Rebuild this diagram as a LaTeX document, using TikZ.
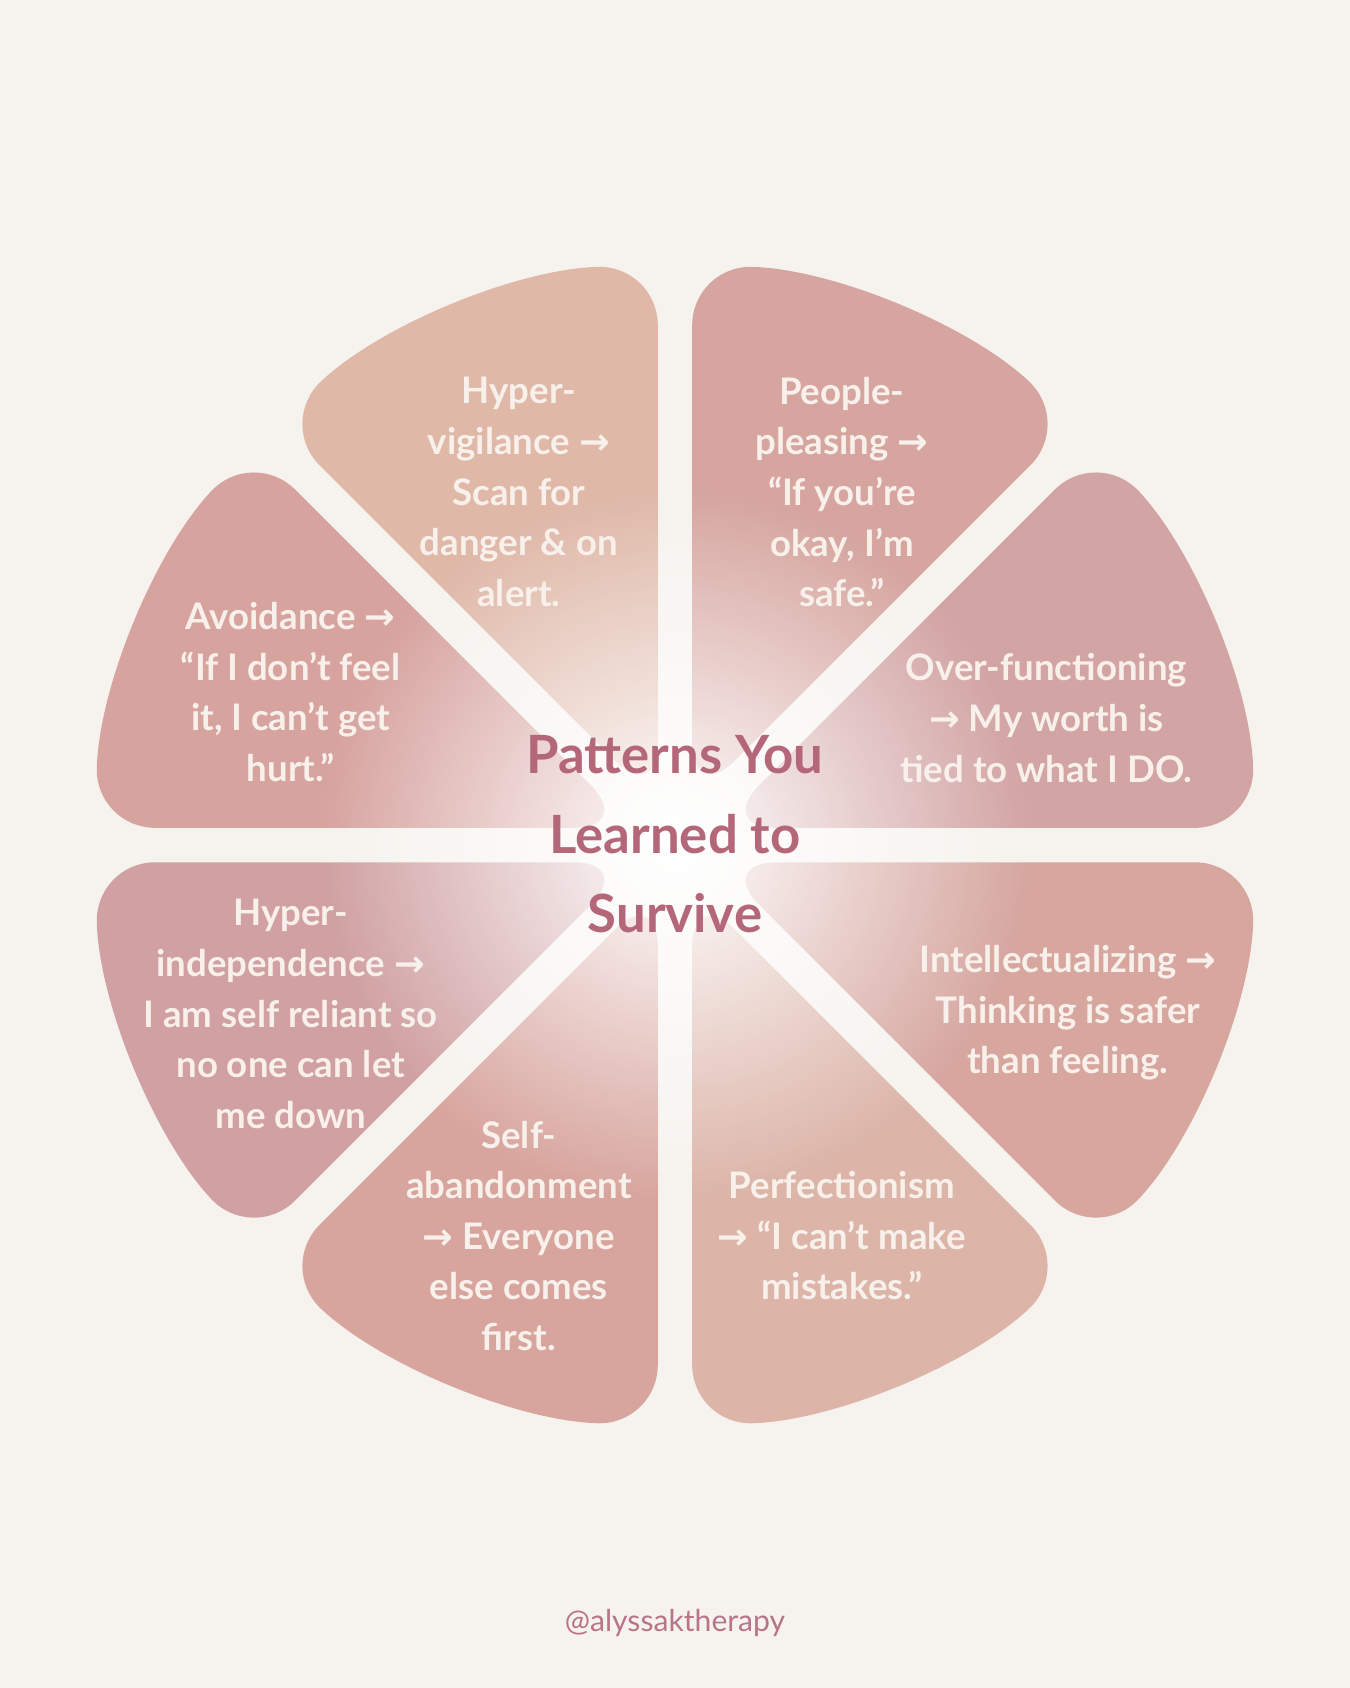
\documentclass[tikz,border=0pt]{standalone}
\usepackage{fontspec}
\setmainfont{Lato}
\newfontfamily\arrfont{DejaVu Sans}
\newcommand{\ar}{{\arrfont →}}
\usetikzlibrary{fadings}
\definecolor{bg}{HTML}{F6F3EE}
\definecolor{txt}{HTML}{F8F0EA}
\definecolor{ttl}{HTML}{B5677A}
\definecolor{hnd}{HTML}{B87488}
\definecolor{cA}{HTML}{DFB8A8}
\definecolor{cB}{HTML}{D6A59F}
\definecolor{cC}{HTML}{D3A4A4}
\definecolor{cD}{HTML}{D6A69F}
\definecolor{cE}{HTML}{DCB4A8}
\definecolor{cF}{HTML}{D8A59E}
\definecolor{cG}{HTML}{D0A0A2}
\definecolor{cH}{HTML}{D7A39F}
\tikzfading[name=glow, inner color=transparent!0, outer color=transparent!100]
\tikzset{lab/.style={text=txt, align=center, font=\fontsize{17}{23.5}\selectfont\bfseries},
 ttl/.style={text=ttl, align=center, font=\fontsize{24.5}{37}\selectfont\bfseries}}
\begin{document}
\begin{tikzpicture}[x=0.5pt,y=0.5pt]
\fill[bg] (0,0) rectangle (1254,1568);
\useasboundingbox (0,0) rectangle (1254,1568);
\begin{scope}[shift={(627,783)}]
\foreach \a/\c in {90/cA,45/cB,0/cC,-45/cD,-90/cE,-135/cF,180/cG,135/cH}{
  \fill[\c, rounded corners=28] ({\a+22.5}:41.8) -- ({\a+1.7}:539) arc ({\a+1.7}:{\a+43.3}:539) -- cycle;
}
\fill[white, path fading=glow] (0,0) circle (330);
\end{scope}
\node[lab] (hv) at (482,1111) {Hyper-\\vigilance \ar\\Scan for\\danger \& on\\alert.};
\node[lab] (pp) at (782,1111) {People-\\pleasing \ar\\“If you’re\\okay, I’m\\safe.”};
\node[lab] (av) at (270,925) {Avoidance \ar\\“If I don’t feel\\it, I can’t get\\hurt.”};
\node[lab] (of) at (972,901) {Over-functioning\\\ar{} My worth is\\tied to what I DO.};
\node[lab] (hi) at (270,626) {Hyper-\\independence \ar\\I am self reliant so\\no one can let\\me down};
\node[lab] (in) at (992,627) {Intellectualizing \ar\\Thinking is safer\\than feeling.};
\node[lab] (sa) at (482,420) {Self-\\abandonment\\\ar{} Everyone\\else comes\\first.};
\node[lab] (pf) at (782,420) {Perfectionism\\\ar{} “I can’t make\\mistakes.”};
\node[ttl] (t) at (627,793) {Patterns You\\Learned to\\Survive};
\node[text=hnd, font=\fontsize{14}{16}\selectfont] (h) at (627,60) {@alyssaktherapy};
\end{tikzpicture}
\end{document}
